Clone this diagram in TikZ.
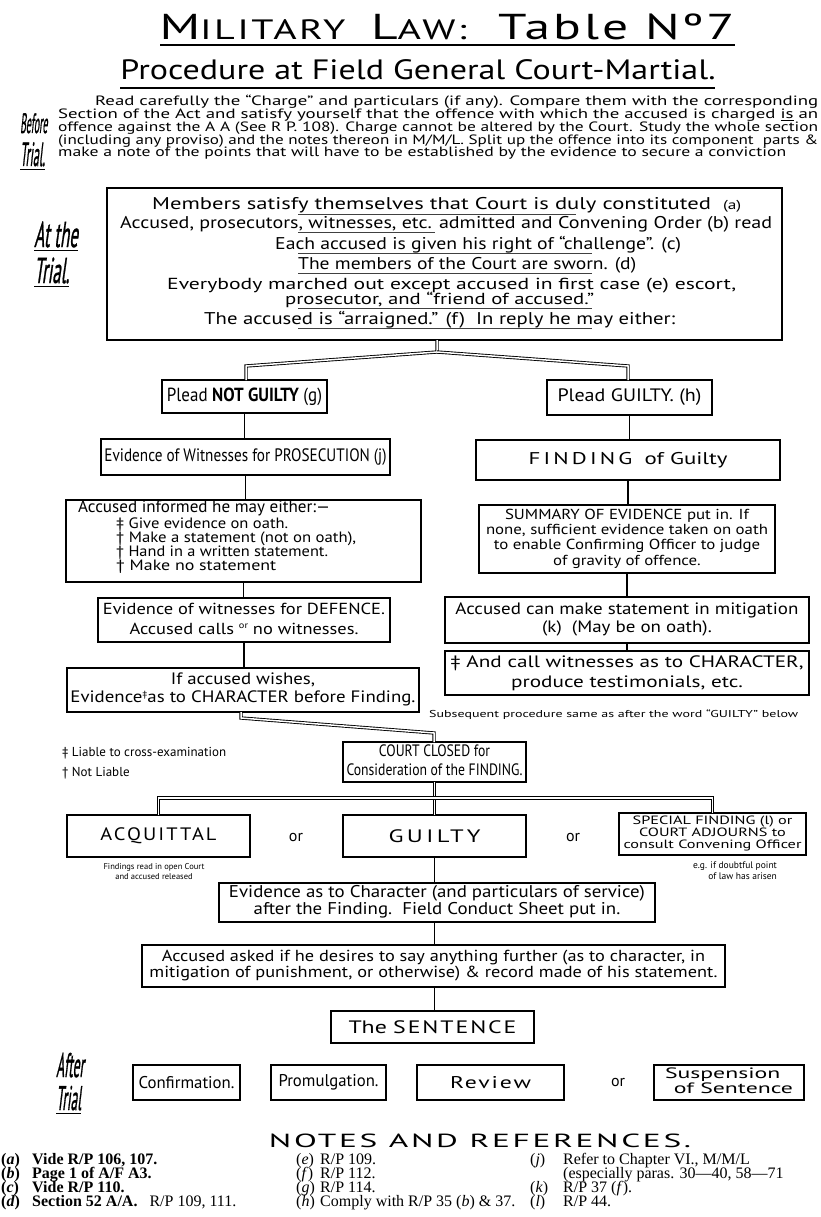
\documentclass[tikz,border=0pt]{standalone}
\usepackage{fontspec}
\usepackage{graphicx}
\setmainfont{PT Sans}
\newfontfamily\notesfont{Liberation Serif}
\newfontfamily\lblfont[FakeSlant=0.3,FakeBold=1.2]{PT Sans}
\newcommand\fw[2]{\resizebox{#1}{\height}{#2}}
\newcommand\fs[1]{\fontsize{#1}{#1}\selectfont}
\newcommand\fsl[2]{\fontsize{#1}{#2}\selectfont}
\newcommand\nrow[3]{\hbox{\makebox[#1][l]{#2}#3}}
\begin{document}
\begin{tikzpicture}[x=1pt,y=-1pt,
  box/.style={draw,line width=1.1pt,inner sep=0pt,outer sep=0pt},
  conn/.style={line width=1.8pt},
  dbl/.style={double=white,double distance=1.5pt,line width=0.9pt},
  tx/.style={inner sep=0pt,anchor=base west},
  tc/.style={inner sep=0pt,anchor=base},
  ul/.style={line width=0.6pt,black!75},
  rule/.style={line width=1.3pt},
  sidelab/.style={inner sep=0pt}]
\fill[white] (0,0) rectangle (821,1217);
\useasboundingbox (0,0) rectangle (821,1217);

% ---------- titles
\node[tc] (title) at (447,40) {\fw{575pt}{\addfontfeature{LetterSpace=6}{\fs{36}M}{\fs{28}ILITARY}\hspace{18pt}{\fs{36}L}{\fs{28}AW:}\hspace{22pt}{\fs{36}Table Nº7}}};
\draw[rule] (160,45) -- (735,45);
\node[tc] (sub) at (418,80) {\fw{595pt}{\fs{28}Procedure at Field General Court-Martial.}};
\draw[rule] (120,88) -- (715,88);

% ---------- before trial
\node[tx] (bt1) at (20,133) {\lblfont\scalebox{0.7}[2.0]{\fs{14}Before}};
\node[tx] (bt2) at (20,166) {\lblfont\scalebox{0.75}[2.1]{\fs{16}\underline{Trial.}}};
\node[tx] (para) at (58,106) {\fs{13.5}\vtop{\baselineskip=12.7pt\lineskiplimit=-20pt\lineskip=0pt
 \hbox{\hskip37pt\fw{723pt}{Read carefully the “Charge” and particulars (if any). Compare them with the corresponding}}
 \hbox{\fw{760pt}{Section of the Act and satisfy yourself that the offence with which the accused is charged \underline{is} an}}
 \hbox{\fw{760pt}{offence against the A A (See R P. 108). Charge cannot be altered by the Court. Study the whole section}}
 \hbox{\fw{760pt}{(including any proviso) and the notes thereon in M/M/L. Split up the offence into its component\ \ parts \&}}
 \hbox{\fw{728pt}{make a note of the points that will have to be established by the evidence to secure a conviction}}}};

% ---------- at the trial
\node[tx] (at1) at (34,247) {\lblfont\scalebox{0.85}[1.8]{\fs{20}\underline{At the}}};
\node[tx] (at2) at (34,283) {\lblfont\scalebox{0.85}[1.8]{\fs{20}\underline{Trial.}}};
\node[box,minimum width=675pt,minimum height=152pt] (trial) at (444.5,264) {};
\node[tx] (t1) at (152,210) {\fw{589pt}{\fs{17}Members satisfy themselves that Court is duly constituted\ \ {\fs{13}(a)}}};
\node[tx] (t2) at (120,228) {\fw{652pt}{\fs{17}Accused, prosecutors, witnesses, etc. admitted and Convening Order (b) read}};
\node[tx] (t3) at (275,249) {\fw{406pt}{\fs{17}Each accused is given his right of “challenge”. (c)}};
\node[tx] (t4) at (298,269) {\fw{338pt}{\fs{17}The members of the Court are sworn. (d)}};
\node[tx] (t5) at (167,289) {\fw{569pt}{\fs{16}Everybody marched out except accused in first case (e) escort,}};
\node[tx] (t6) at (285,304) {\fw{309pt}{\fs{16}prosecutor, and “friend of accused.”}};
\node[tx] (t7) at (204,324) {\fw{471pt}{\fs{17}The accused is “arraigned.” (f)\ \ In reply he may either:}};
\draw[ul] (298,214) -- (576,214);
\draw[ul] (298,232) -- (435,232);
\draw[ul] (298,253) -- (592,253);
\draw[ul] (298,273) -- (592,273);
\draw[ul] (298,308) -- (592,308);
\draw[ul] (298,328) -- (592,328);

% ---------- pleas
\node[box,minimum width=165pt,minimum height=33pt] (ng) at (244.5,396.5) {\fw{155pt}{\fs{19}Plead \textbf{NOT GUILTY} (g)}};
\node[box,minimum width=165pt,minimum height=35pt] (g) at (629.5,397.5) {\fw{144pt}{\fs{18}Plead GUILTY. (h)}};
\coordinate (b0) at (437,352);
\coordinate (bl) at (246,366);
\coordinate (br) at (628,366);
\draw[dbl] (trial.south -| b0) -- (b0) -- (bl) -- (ng.north -| bl);
\draw[dbl] (b0) -- (br) -- (g.north -| br);

% ---------- left column
\node[box,minimum width=289pt,minimum height=36pt] (pros) at (245.5,457) {\fw{282pt}{\fs{18}Evidence of Witnesses for PROSECUTION (j)}};
\node[box,minimum width=355pt,minimum height=82pt] (inf) at (243.5,541) {};
\node[tx] (i1) at (78,512) {\fw{252pt}{\fs{17}Accused informed he may either:—}};
\node[tx] (i2) at (116,528) {\fs{15}\vtop{\baselineskip=14pt\lineskiplimit=-20pt\lineskip=0pt
 \hbox{\fw{172pt}{‡ Give evidence on oath.}}
 \hbox{\fw{240pt}{† Make a statement (not on oath),}}
 \hbox{\fw{212pt}{† Hand in a written statement.}}
 \hbox{\fw{160pt}{† Make no statement}}}};
\node[box,minimum width=292pt,minimum height=44pt] (def) at (244,620) {\fw{282pt}{\fsl{16}{20}\begin{tabular}{@{}c@{}}Evidence of witnesses for DEFENCE.\\Accused calls \raisebox{6pt}{\fs{9}or} no witnesses.\end{tabular}}};
\node[box,minimum width=352pt,minimum height=44pt] (wish) at (243,690) {\fw{345pt}{\fsl{16.5}{18}\begin{tabular}{@{}c@{}}If accused wishes,\\Evidence\raisebox{5pt}{\fs{9}‡}as to CHARACTER before Finding.\end{tabular}}};
\draw[conn] (ng.south) -- (ng.south |- pros.north);
\draw[conn] (pros.south) -- (pros.south |- inf.north);
\draw[conn] (inf.south) -- (inf.south |- def.north);
\draw[conn] (def.south) -- (def.south |- wish.north);

% ---------- right column
\node[box,minimum width=304pt,minimum height=40pt] (find) at (628,460) {\fw{199pt}{\fs{17}{\addfontfeature{LetterSpace=14}FINDING}\ \ of Guilty}};
\node[box,minimum width=296pt,minimum height=68pt] (summ) at (627,539) {\fw{282pt}{\fsl{14.5}{15.3}\begin{tabular}{@{}c@{}}SUMMARY OF EVIDENCE put in. If\\none, sufficient evidence taken on oath\\to enable Confirming Officer to judge\\of gravity of offence.\end{tabular}}};
\node[box,minimum width=364pt,minimum height=46pt] (stmt) at (627,620) {\fw{343pt}{\fsl{16.5}{18}\begin{tabular}{@{}c@{}}Accused can make statement in mitigation\\(k)\ \ (May be on oath).\end{tabular}}};
\node[box,minimum width=364pt,minimum height=44pt] (callw) at (627,673) {\fw{353pt}{\fsl{16.5}{20}\begin{tabular}{@{}c@{}}‡ And call witnesses as to CHARACTER,\\produce testimonials, etc.\end{tabular}}};
\node[tx] (subs) at (429,717) {\fw{369pt}{\fs{10}Subsequent procedure same as after the word “GUILTY” below}};
\draw[conn] (g.south) -- (g.south |- find.north);
\draw[conn] (find.south) -- (find.south |- summ.north);
\draw[conn] (summ.south) -- (summ.south |- stmt.north);
\draw[conn] (stmt.south) -- (stmt.south |- callw.north);

% ---------- footnotes
\node[tx] (fn1) at (62,756) {\fs{13}‡ Liable to cross-examination};
\node[tx] (fn2) at (62,776) {\fs{13}† Not Liable};

% ---------- court closed
\node[box,minimum width=183pt,minimum height=40pt] (closed) at (434.5,762) {\fw{176pt}{\fsl{16.5}{19}\begin{tabular}{@{}c@{}}COURT CLOSED for\\Consideration of the FINDING.\end{tabular}}};
\coordinate (w1) at (241,718);
\coordinate (w2) at (434,733);
\draw[dbl] (wish.south -| w1) -- (w1) -- (w2) -- (closed.north -| w2);

% ---------- findings
\node[box,minimum width=183pt,minimum height=42pt] (acq) at (158.5,836) {\fw{116pt}{\fs{18}\addfontfeature{LetterSpace=10}ACQUITTAL}};
\node[box,minimum width=183pt,minimum height=42pt] (guilty) at (434.5,836) {\fw{92pt}{\fs{18}\addfontfeature{LetterSpace=14}GUILTY}};
\node[box,minimum width=187pt,minimum height=42pt] (spec) at (712.5,834) {\fw{178pt}{\fsl{12}{11.5}\begin{tabular}{@{}c@{}}SPECIAL FINDING (l) or\\COURT ADJOURNS to\\consult Convening Officer\end{tabular}}};
\node (or1) at (296,837) {\fs{16}or};
\node (or2) at (573,837) {\fs{16}or};
\coordinate (h0) at (434,798);
\draw[dbl] (closed.south) -- (guilty.north);
\draw[dbl] (acq.north) -- (acq.north |- h0) -- (spec.north |- h0) -- (spec.north);
\node (acqn) at (154,872) {\fsl{8.5}{10}\begin{tabular}{@{}c@{}}Findings read in open Court\\and accused released\end{tabular}};
\node (specn) at (735,872) {\fsl{9.5}{10.5}\begin{tabular}{@{}r@{}}e.g. if doubtful point\\of law has arisen\end{tabular}};

% ---------- after finding
\node[box,minimum width=436pt,minimum height=39pt] (char) at (437,902.5) {\fw{416pt}{\fsl{17}{16}\begin{tabular}{@{}c@{}}Evidence as to Character (and particulars of service)\\after the Finding.\ \ Field Conduct Sheet put in.\end{tabular}}};
\node[box,minimum width=583pt,minimum height=42pt] (asked) at (433.5,966) {\fw{568pt}{\fsl{16}{16}\begin{tabular}{@{}c@{}}Accused asked if he desires to say anything further (as to character, in\\mitigation of punishment, or otherwise) \& record made of his statement.\end{tabular}}};
\node[box,minimum width=203pt,minimum height=32pt] (sent) at (432.5,1027) {\fw{168pt}{\fs{18}The {\addfontfeature{LetterSpace=8}SENTENCE}}};
\draw[conn] (guilty.south) -- (guilty.south |- char.north);
\draw[conn] (char.south -| guilty.south) -- (guilty.south |- asked.north);
\draw[conn] (asked.south -| guilty.south) -- (guilty.south |- sent.north);

% ---------- after trial
\node[tx] (af1) at (56,1077) {\lblfont\scalebox{0.75}[1.9]{\fs{18}After}};
\node[tx] (af2) at (56,1110) {\lblfont\scalebox{0.75}[1.9]{\fs{18}\underline{Trial}}};
\node[box,minimum width=107pt,minimum height=35pt] (conf) at (186.5,1082.5) {\fw{96pt}{\fs{17}Confirmation.}};
\node[box,minimum width=115pt,minimum height=35pt] (prom) at (328.5,1082.5) {\fw{100pt}{\fs{17}Promulgation.}};
\node[box,minimum width=147pt,minimum height=35pt] (rev) at (490.5,1082.5) {\fw{81pt}{\fs{17}\addfontfeature{LetterSpace=8}Review}};
\node (or3) at (618,1082) {\fs{16}or};
\node[box,minimum width=150pt,minimum height=35pt] (susp) at (729,1082.5) {\fw{128pt}{\fsl{15}{14}\begin{tabular}{@{}r@{}}Suspension\ \ \ \\of Sentence\end{tabular}}};

% ---------- notes
\node[tc] (notes) at (480,1147) {\fw{422pt}{\fs{19}\addfontfeature{LetterSpace=8}NOTES AND REFERENCES.}};
\node[tx] (col1) at (1,1164) {\notesfont\fs{16}\vtop{\baselineskip=14pt\lineskiplimit=-20pt\lineskip=0pt
 \nrow{31pt}{\bfseries(\textit{a})}{\bfseries Vide R/P 106, 107.}
 \nrow{31pt}{\bfseries(\textit{b})}{\bfseries Page 1 of A/F A3.}
 \nrow{31pt}{\bfseries(\textit{c})}{\bfseries Vide R/P 110.}
 \nrow{31pt}{\bfseries(\textit{d})}{{\bfseries Section 52 A/A.}\hspace{12pt}R/P 109, 111.}}};
\node[tx] (col2) at (296,1164) {\notesfont\fs{16}\vtop{\baselineskip=14pt\lineskiplimit=-20pt\lineskip=0pt
 \nrow{24pt}{(\textit{e})}{R/P 109.}
 \nrow{24pt}{(\textit{f})}{R/P 112.}
 \nrow{24pt}{(\textit{g})}{R/P 114.}
 \nrow{24pt}{(\textit{h})}{Comply with R/P 35 (\textit{b}) \& 37.}}};
\node[tx] (col3) at (530,1164) {\notesfont\fs{16}\vtop{\baselineskip=14pt\lineskiplimit=-20pt\lineskip=0pt
 \nrow{33pt}{(\textit{j})}{Refer to Chapter VI., M/M/L}
 \nrow{33pt}{}{(especially paras. 30—40, 58—71}
 \nrow{33pt}{(\textit{k})}{R/P 37 (\textit{f}).}
 \nrow{33pt}{(\textit{l})}{R/P 44.}}};
\end{tikzpicture}
\end{document}
